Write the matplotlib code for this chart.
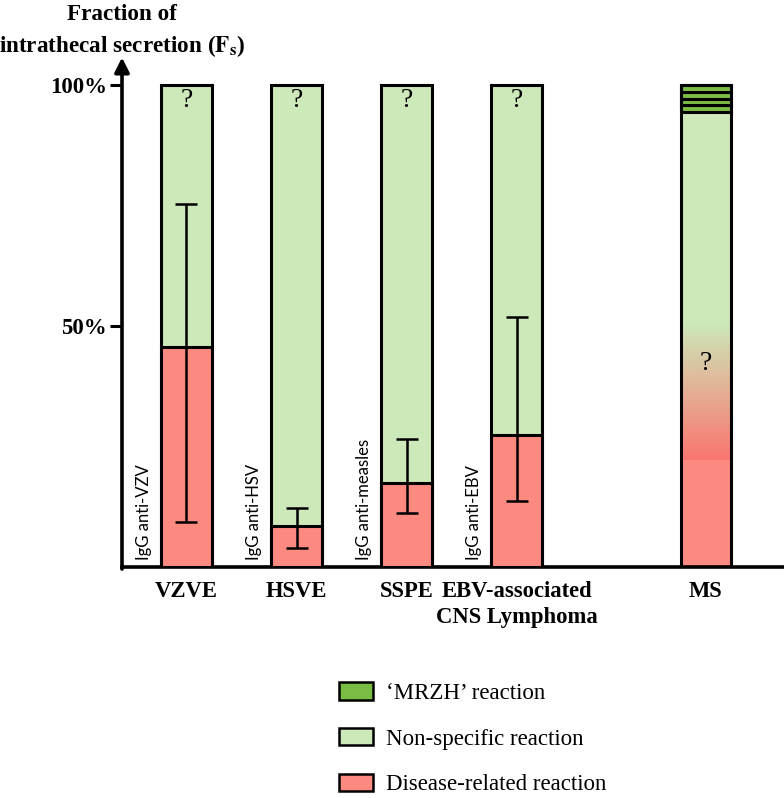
import numpy as np
import matplotlib
matplotlib.use("Agg")
import matplotlib.pyplot as plt
from matplotlib.patches import Patch

plt.rcParams['font.family'] = ['Liberation Serif', 'DejaVu Serif']
plt.rcParams['mathtext.fontset'] = 'stix'

# data (percent)
categories = ['VZVE', 'HSVE', 'SSPE', 'EBV-associated\nCNS Lymphoma', 'MS']
positions = [0, 1, 2, 3, 4.72]
disease = [45.6, 8.5, 17.4, 27.4]
err_low = [9.3, 3.9, 11.2, 13.7]
err_high = [75.3, 12.2, 26.6, 51.9]
antibody = ['IgG anti-VZV', 'IgG anti-HSV', 'IgG anti-measles', 'IgG anti-EBV']

ms_disease = 22.2
ms_fade_top = 50.6
ms_mrzh_bottom = 94.4
ms_mrzh_bands = 4

red = '#fc8a80'
light_green = '#cde8b9'
dark_green = '#7bbd44'
bw = 0.46
lw = 2.2

fig = plt.figure(figsize=(7.84, 7.98), dpi=100)
ax = fig.add_axes([122/784, 231/798, 662/784, 507/798])
ax.set_xlim(-0.586, 5.43)
ax.set_ylim(0, 105.2)

# four virus bars
x4 = positions[:4]
ax.bar(x4, [100]*4, width=bw, color=light_green, edgecolor='black', linewidth=lw, zorder=2)
ax.bar(x4, disease, width=bw, color=red, edgecolor='black', linewidth=lw, zorder=3)
mean = np.array(disease)
yerr = [mean - np.array(err_low), np.array(err_high) - mean]
ax.errorbar(x4, disease, yerr=yerr, fmt='none', ecolor='black', elinewidth=1.8,
            capsize=8, capthick=1.8, zorder=4)
for x in x4:
    ax.text(x, 96.8, '?', ha='center', va='center', fontsize=20, zorder=5)
for x, t in zip(x4, antibody):
    ax.text(x - 0.39, 1.4, t, rotation=90, ha='center', va='bottom',
            fontsize=12, family=['Lato', 'DejaVu Sans'], zorder=5)

# MS bar
xm = positions[4]
ax.bar(xm, ms_disease, width=bw, color=red, linewidth=0, zorder=2)
ax.bar(xm, 100 - ms_fade_top, bottom=ms_fade_top, width=bw, color=light_green,
       linewidth=0, zorder=2)
c0 = np.array([250, 118, 112]) / 255
c1 = np.array([205, 232, 185]) / 255
t = np.linspace(0, 1, 200)[:, None]
grad = (c0 * (1 - t) + c1 * t)[:, None, :]
ax.imshow(grad, extent=(xm - bw/2, xm + bw/2, ms_disease, ms_fade_top), origin='lower',
          aspect='auto', zorder=2, interpolation='bilinear')
band_h = (100 - ms_mrzh_bottom) / ms_mrzh_bands
ax.bar([xm]*ms_mrzh_bands, [band_h]*ms_mrzh_bands,
       bottom=[ms_mrzh_bottom + i*band_h for i in range(ms_mrzh_bands)],
       width=bw, color=dark_green, edgecolor='black', linewidth=lw, zorder=3)
ax.bar(xm, 100, width=bw, fill=False, edgecolor='black', linewidth=lw, zorder=4)
ax.text(xm, 42.3, '?', ha='center', va='center', fontsize=20, zorder=5)
ax.set_xlim(-0.586, 5.43)
ax.set_ylim(0, 105.2)

# axes styling
for s in ['top', 'right', 'left']:
    ax.spines[s].set_visible(False)
ax.spines['bottom'].set_linewidth(lw + 0.4)
ax.annotate('', xy=(0, 1.005), xycoords='axes fraction', xytext=(0, -0.004),
            arrowprops=dict(arrowstyle='-|>', lw=lw + 0.4, color='black',
                            mutation_scale=22, shrinkA=0, shrinkB=0))
ax.set_yticks([50, 100])
ax.set_yticklabels(['50%', '100%'], fontsize=16.5, fontweight='bold')
ax.tick_params(axis='y', length=9, width=2.2, pad=2)
ax.set_xticks(positions)
ax.set_xticklabels(categories, fontsize=16.3, fontweight='bold', linespacing=1.35)
ax.tick_params(axis='x', length=0, pad=10)

fig.text(122/784, 1 - 15/798, 'Fraction of', ha='center', va='center',
         fontsize=16.7, fontweight='bold')
fig.text(122/784, 1 - 46/798, r'intrathecal secretion ($\mathbf{F_s}$)', ha='center',
         va='center', fontsize=16.7, fontweight='bold')

handles = [Patch(facecolor=dark_green, edgecolor='black', linewidth=1.8),
           Patch(facecolor=light_green, edgecolor='black', linewidth=1.8),
           Patch(facecolor=red, edgecolor='black', linewidth=1.8)]
labels = ["\u2018MRZH\u2019 reaction", 'Non-specific reaction', 'Disease-related reaction']
fig.legend(handles, labels, loc='upper left', bbox_to_anchor=(330/784, 1 - 673/798),
           frameon=False, fontsize=16.5, handlelength=1.48, handleheight=0.79,
           handletextpad=0.57, labelspacing=1.05, borderaxespad=0)

fig.savefig('out.png', dpi=100)
